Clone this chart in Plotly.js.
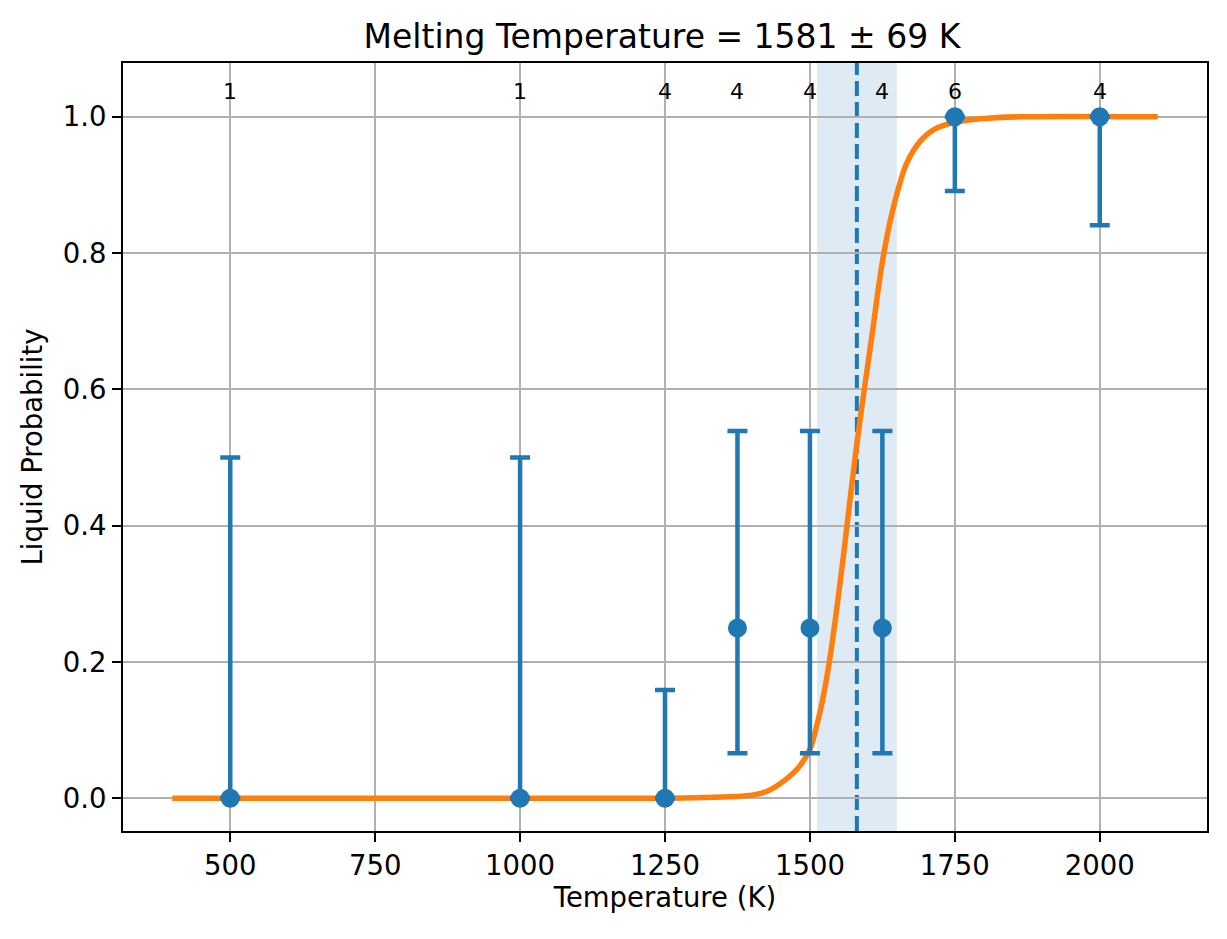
<!DOCTYPE html>
<html>
<head>
<meta charset="utf-8">
<script src="https://cdn.plot.ly/plotly-3.0.1.min.js"></script>
<style>
  html, body { margin: 0; padding: 0; background: #fff; }
  #plot { width: 1227px; height: 939px; }
</style>
</head>
<body>
<div id="plot"></div>
<script>
// measured points
const temps = [500, 1000, 1250, 1375, 1500, 1625, 1750, 2000];
const liquidProb = [0, 0, 0, 0.25, 0.25, 0.25, 1.0, 1.0];
const ciLower = [0, 0, 0, 0.066, 0.066, 0.066, 0.891, 0.841];
const ciUpper = [0.5, 0.5, 0.159, 0.539, 0.539, 0.539, 1.0, 1.0];
const counts = ['1', '1', '4', '4', '4', '4', '6', '4'];

// fitted curve
const fitT = [400, 1250, 1310, 1368, 1402, 1425, 1448, 1466, 1483, 1500, 1511, 1523, 1534, 1545,
              1557, 1568, 1578, 1588, 1598, 1608, 1617, 1626, 1638, 1652, 1667, 1690, 1713, 1750,
              1793, 1862, 2100];
const fitP = [0, 0.0002, 0.001, 0.0025, 0.005, 0.01, 0.021, 0.033, 0.048, 0.072, 0.104, 0.149, 0.203, 0.27,
              0.35, 0.43, 0.5, 0.565, 0.625, 0.685, 0.742, 0.792, 0.845, 0.893, 0.932, 0.964, 0.981, 0.992,
              0.997, 1.0, 1.0];

const tMelt = 1581;
const tErr = 69;

const BLUE = '#1f77b4';
const ORANGE = '#ff7f0e';
const FONT = 'DejaVu Sans, sans-serif';

const errPlus = liquidProb.map((p, i) => ciUpper[i] - p);
const errMinus = liquidProb.map((p, i) => p - ciLower[i]);

const curve = {
    x: fitT,
    y: fitP,
    mode: 'lines',
    line: { color: ORANGE, width: 5.5, shape: 'spline', smoothing: 1 },
    hoverinfo: 'skip'
};

const points = {
    x: temps,
    y: liquidProb,
    mode: 'markers',
    marker: { color: BLUE, size: 19 },
    error_y: {
        type: 'data',
        symmetric: false,
        array: errPlus,
        arrayminus: errMinus,
        color: BLUE,
        thickness: 4.5,
        width: 10
    }
};

const annotations = temps.map((t, i) => ({
    x: t,
    y: 1.037,
    xref: 'x',
    yref: 'y',
    text: counts[i],
    showarrow: false,
    xanchor: 'center',
    yanchor: 'middle',
    font: { family: FONT, size: 22, color: '#000' }
}));

const axisCommon = {
    showgrid: true,
    gridcolor: '#b0b0b0',
    gridwidth: 2,
    zeroline: false,
    showline: true,
    mirror: true,
    linecolor: '#000',
    linewidth: 2,
    ticks: 'outside',
    ticklen: 9,
    tickwidth: 2,
    tickcolor: '#000',
    tickfont: { family: FONT, size: 27.5, color: '#000' }
};

const layout = {
    width: 1227,
    height: 939,
    margin: { l: 123, r: 20, t: 63, b: 108 },
    paper_bgcolor: '#fff',
    plot_bgcolor: '#fff',
    showlegend: false,
    font: { family: FONT, color: '#000' },
    title: {
        text: 'Melting Temperature = ' + tMelt + ' ± ' + tErr + ' K',
        font: { family: FONT, size: 33, color: '#000' },
        x: 0.5395,
        xanchor: 'center',
        y: 1 - 36 / 939,
        yanchor: 'middle',
        yref: 'container'
    },
    xaxis: Object.assign({}, axisCommon, {
        range: [315, 2185],
        tickvals: [500, 750, 1000, 1250, 1500, 1750, 2000],
        title: { text: 'Temperature (K)', font: { family: FONT, size: 27.5, color: '#000' }, standoff: 6 }
    }),
    yaxis: Object.assign({}, axisCommon, {
        range: [-0.048, 1.079],
        tickvals: [0, 0.2, 0.4, 0.6, 0.8, 1.0],
        tickformat: '.1f',
        title: { text: 'Liquid Probability', font: { family: FONT, size: 27.5, color: '#000' }, standoff: 12 }
    }),
    shapes: [
        {
            type: 'rect', xref: 'x', yref: 'paper',
            x0: tMelt - tErr, x1: tMelt + tErr, y0: 0, y1: 1,
            fillcolor: BLUE, opacity: 0.15, line: { width: 0 }, layer: 'below'
        },
        {
            type: 'line', xref: 'x', yref: 'paper',
            x0: tMelt, x1: tMelt, y0: 0, y1: 1,
            line: { color: BLUE, width: 4, dash: '15px,6px' }, layer: 'between'
        }
    ],
    annotations: annotations
};

Plotly.newPlot('plot', [curve, points], layout, { displayModeBar: false, staticPlot: true });
</script>
</body>
</html>
